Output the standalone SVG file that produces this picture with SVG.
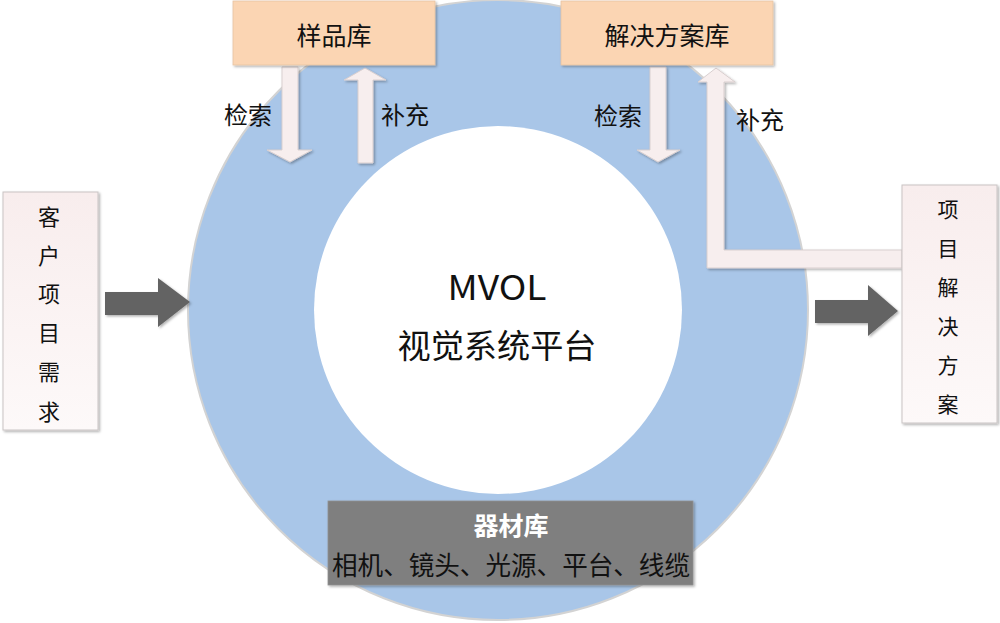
<svg xmlns="http://www.w3.org/2000/svg" width="1000" height="623" viewBox="0 0 1000 623">
<defs>
<linearGradient id="pinkg" x1="0" y1="0" x2="0" y2="1">
<stop offset="0" stop-color="#F8EDED"/>
<stop offset="1" stop-color="#FDF9F9"/>
</linearGradient>
<filter id="sh" x="-20%" y="-20%" width="140%" height="140%">
<feDropShadow dx="1.5" dy="1.5" stdDeviation="1.2" flood-color="#000" flood-opacity="0.3"/>
</filter>
</defs>
<style>
text{font-family:"Noto Sans CJK SC","Microsoft YaHei",sans-serif;fill:#111;text-anchor:middle;dominant-baseline:central}
.lt{fill:#F7EEEE;stroke:#D9CFCF;stroke-width:1}
.dk{fill:#646464}
.peach{fill:#FBD5B3;stroke:#E6C2A2;stroke-width:0.8}
.side{fill:url(#pinkg);stroke:#C9C4C4;stroke-width:1}
</style>
<rect width="1000" height="623" fill="#fff"/>
<g id="ring">
<circle cx="498" cy="310" r="310" fill="#A9C6E8" stroke="#D3D3D3" stroke-width="2"/>
<circle cx="498" cy="310" r="184" fill="#fff"/>
</g>
<g id="center">
<text x="497" y="285" font-size="34" textLength="99" lengthAdjust="spacingAndGlyphs">MVOL</text>
<text x="497" y="344" font-size="33" textLength="199" lengthAdjust="spacingAndGlyphs">视觉系统平台</text>
</g>
<g id="connectors">
<polygon class="lt" filter="url(#sh)" points="282,67 298,67 298,150 312,150 290,162 267,150 282,150"/>
<polygon class="lt" filter="url(#sh)" points="365,68 386,80 373,80 373,163 358,163 358,80 344,80"/>
<polygon class="lt" filter="url(#sh)" points="650,67 666,67 666,150 680,150 658,162 637,150 650,150"/>
<polygon class="lt" filter="url(#sh)" points="716,68 735,82 724,82 724,250 902,250 902,268 707,268 707,82 698,82"/>
<polygon class="dk" filter="url(#sh)" points="105,292 158,292 158,278 190,302 158,327 158,315 105,315"/>
<polygon class="dk" filter="url(#sh)" points="815,300 868,300 868,285 898,311 868,336 868,323 815,323"/>
<text x="248" y="113" font-size="24">检索</text>
<text x="405" y="113" font-size="24">补充</text>
<text x="618" y="114" font-size="24">检索</text>
<text x="760" y="118" font-size="24">补充</text>
</g>
<g id="yangpinku">
<rect class="peach" filter="url(#sh)" x="233" y="1" width="202" height="64"/>
<text x="334" y="34" font-size="25">样品库</text>
</g>
<g id="jiejuefanganku">
<rect class="peach" filter="url(#sh)" x="561" y="1" width="212" height="64"/>
<text x="667" y="34" font-size="25">解决方案库</text>
</g>
<g id="kehu">
<rect class="side" filter="url(#sh)" x="3" y="192" width="95" height="238"/>
<text x="49" y="215" font-size="22">客</text>
<text x="49" y="254" font-size="22">户</text>
<text x="49" y="292" font-size="22">项</text>
<text x="49" y="331" font-size="22">目</text>
<text x="49" y="370" font-size="22">需</text>
<text x="49" y="410" font-size="22">求</text>
</g>
<g id="fangan">
<rect class="side" filter="url(#sh)" x="902" y="185" width="95" height="238"/>
<text x="948" y="208" font-size="21">项</text>
<text x="948" y="247" font-size="21">目</text>
<text x="948" y="286" font-size="21">解</text>
<text x="948" y="325" font-size="21">决</text>
<text x="948" y="364" font-size="21">方</text>
<text x="948" y="403" font-size="21">案</text>
</g>
<g id="qicaiku">
<rect filter="url(#sh)" x="328" y="501" width="365" height="84" fill="#7F7F7F" stroke="#909090" stroke-width="0.8"/>
<text x="511" y="524" font-size="25" font-weight="bold" style="fill:#fff">器材库</text>
<text x="511" y="563" font-size="26" textLength="358" lengthAdjust="spacingAndGlyphs">相机、镜头、光源、平台、线缆</text>
</g>
</svg>
